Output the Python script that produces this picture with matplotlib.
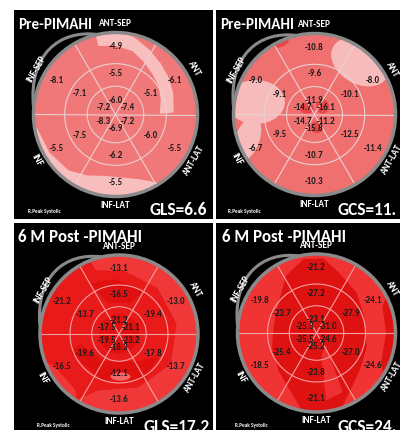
import numpy as np
import matplotlib.pyplot as plt
from matplotlib.patches import Circle, Polygon, Ellipse, PathPatch
from matplotlib.path import Path

plt.rcParams['font.family'] = ['Carlito', 'DejaVu Sans']

# segment order: ANT-SEP, ANT, ANT-LAT, INF-LAT, INF, INF-SEP
segments = ['ANT-SEP', 'ANT', 'ANT-LAT', 'INF-LAT', 'INF', 'INF-SEP']
seg_angles = [90, 30, -30, -90, -150, 150]

pre_gls_basal = [-4.9, -6.1, -5.5, -5.5, -5.5, -8.1]
pre_gls_mid = [-5.5, -5.1, -6.0, -6.2, -7.5, -7.1]
pre_gls_apical = [-6.0, -7.4, -7.2, -6.9, -8.3, -7.2]

pre_gcs_basal = [-10.8, -8.0, -11.4, -10.3, -6.7, -9.0]
pre_gcs_mid = [-9.6, -10.1, -12.5, -10.7, -9.5, -9.1]
pre_gcs_apical = [-11.9, -16.1, -11.2, -15.8, -14.7, -14.7]

post_gls_basal = [-13.1, -13.0, -13.7, -13.6, -16.5, -21.2]
post_gls_mid = [-16.5, -19.4, -17.8, -12.1, -19.6, -13.7]
post_gls_apical = [-21.2, -21.1, -23.2, -18.3, -19.5, -17.5]

post_gcs_basal = [-21.2, -24.1, -24.6, -21.1, -18.5, -19.8]
post_gcs_mid = [-27.2, -27.9, -27.0, -23.8, -25.4, -23.7]
post_gcs_apical = [-23.1, -31.0, -24.6, -25.2, -25.5, -25.3]

titles = ['Pre-PIMAHI', 'Pre-PIMAHI', '6 M Post -PIMAHI', '6 M Post -PIMAHI']
global_labels = ['GLS=6.6', 'GCS=11.', 'GLS=17.2', 'GCS=24.']

W, H = 400, 430
RING_MID = 0.62
RING_IN = 0.345


def pol(c, R, a, r):
    return (c[0] + r * R * np.cos(np.radians(a)), c[1] + r * R * np.sin(np.radians(a)))


def blob(ax, c, R, pts, color, clip):
    poly = Polygon([pol(c, R, a, r) for a, r in pts], closed=True, fc=color, ec='none',
                   zorder=2, joinstyle='round')
    ax.add_patch(poly)
    poly.set_clip_path(clip)


def ellipse(ax, c, R, a, r, w, h, ang, color, clip):
    e = Ellipse(pol(c, R, a, r), w, h, angle=ang, fc=color, ec='none', zorder=2)
    ax.add_patch(e)
    e.set_clip_path(clip)


def shade_pre_gls(ax, c, R, clip):
    pale = '#F8BEBE'
    blob(ax, c, R, [(104, 1.05), (88, 1.05), (75, 0.96), (62, 0.89), (48, 0.83), (35, 0.79),
                    (20, 0.75), (2, 0.71), (1, 0.54), (18, 0.58), (33, 0.63), (48, 0.67),
                    (62, 0.73), (75, 0.80), (90, 0.84), (104, 0.86)], pale, clip)
    blob(ax, c, R, [(186, 1.05), (205, 1.06), (225, 1.06), (245, 1.06), (265, 1.06),
                    (285, 1.06), (305, 1.05), (300, 0.95), (290, 0.84), (275, 0.77),
                    (260, 0.76), (245, 0.82), (230, 0.89), (210, 0.93), (190, 0.97)], pale, clip)


def shade_pre_gcs(ax, c, R, clip):
    pale = '#F7BBBB'
    dark = '#E84646'
    ellipse(ax, c, R, 49, 0.86, 62, 44, -30, pale, clip)
    ellipse(ax, c, R, 168, 0.74, 58, 44, 0, pale, clip)
    ellipse(ax, c, R, 200, 0.88, 24, 46, -20, pale, clip)
    ellipse(ax, c, R, 45, 0.14, 13, 14, 0, dark, clip)
    ellipse(ax, c, R, 140, 0.12, 14, 11, 0, dark, clip)
    ellipse(ax, c, R, -80, 0.16, 12, 12, 0, dark, clip)
    ellipse(ax, c, R, 115, 0.97, 16, 7, 25, dark, clip)


def shade_post_gls(ax, c, R, clip):
    light = '#F03838'
    dark = '#E01010'
    blob(ax, c, R, [(-125, 1.06), (-90, 1.06), (-50, 1.06), (-10, 1.06), (30, 1.06),
                    (70, 1.06), (112, 1.06), (110, 0.86), (85, 0.80), (50, 0.76), (10, 0.74),
                    (-30, 0.76), (-70, 0.72), (-110, 0.76)], light, clip)
    blob(ax, c, R, [(195, 1.06), (240, 1.06), (232, 0.90), (210, 0.90)], light, clip)
    blob(ax, c, R, [(120, 0.74), (95, 0.70), (60, 0.62), (70, 0.42), (110, 0.42)], dark, clip)
    blob(ax, c, R, [(200, 0.66), (250, 0.62), (300, 0.66), (330, 0.58), (300, 0.40),
                    (240, 0.40), (195, 0.50)], dark, clip)
    ellipse(ax, c, R, 0, 0.0, 40, 40, 0, dark, clip)
    ellipse(ax, c, R, -88, 0.54, 20, 8, 0, '#F46868', clip)


def shade_post_gcs(ax, c, R, clip):
    dark = '#DF1212'
    blob(ax, c, R, [(100, 0.95), (118, 0.82), (140, 0.62), (170, 0.55), (200, 0.60),
                    (225, 0.68), (250, 0.85), (262, 1.06), (285, 1.06), (300, 0.85),
                    (320, 0.72), (345, 0.66), (20, 0.64), (45, 0.72), (70, 0.82), (85, 0.95)],
         dark, clip)
    blob(ax, c, R, [(-35, 1.06), (-5, 1.06), (30, 1.06), (22, 0.90), (0, 0.88), (-25, 0.90)],
         dark, clip)
    blob(ax, c, R, [(-52, 0.18), (-66, 0.82), (-82, 0.86), (-78, 0.30)], '#EE3030', clip)


panels = [
    dict(rect=(14, 10, 199, 209), center=(115.5, 114.5), R=82, fill='#F17878',
         grid='#EAD0D0', vals=(pre_gls_basal, pre_gls_mid, pre_gls_apical),
         shade=shade_pre_gls, tsize=10.9, tx=4),
    dict(rect=(216, 10, 184, 209), center=(314.5, 114.5), R=81, fill='#F07070',
         grid='#EAD0D0', vals=(pre_gcs_basal, pre_gcs_mid, pre_gcs_apical),
         shade=shade_pre_gcs, tsize=10.9, tx=4),
    dict(rect=(14, 223, 199, 207), center=(119, 334), R=79, fill='#E81A1A',
         grid='#F4A0A0', vals=(post_gls_basal, post_gls_mid, post_gls_apical),
         shade=shade_post_gls, tsize=12.2, tx=4),
    dict(rect=(216, 223, 184, 207), center=(316.5, 333), R=79, fill='#F03434',
         grid='#F4A0A0', vals=(post_gcs_basal, post_gcs_mid, post_gcs_apical),
         shade=shade_post_gcs, tsize=12.2, tx=6),
]

fig = plt.figure(figsize=(W / 100, H / 100), dpi=100, facecolor='white')

for i, p in enumerate(panels):
    x0, y0, w, h = p['rect']
    R = p['R']
    ax = fig.add_axes([x0 / W, 1 - (y0 + h) / H, w / W, h / H])
    ax.set_xlim(0, w)
    ax.set_ylim(0, h)
    ax.set_facecolor('black')
    ax.set_xticks([])
    ax.set_yticks([])
    for s in ax.spines.values():
        s.set_visible(False)

    # local centre, y measured upward from the panel bottom
    c = (p['center'][0] - x0, h - (p['center'][1] - y0))

    ax.text(p['tx'], h - 19, titles[i], color='white', fontsize=p['tsize'],
            fontweight='bold', ha='left', va='baseline', zorder=6)

    ax.add_patch(Circle(c, R, fc=p['fill'], ec='none', zorder=1))
    clip = Circle(c, R, transform=ax.transData)
    p['shade'](ax, c, R, clip)

    # ring boundaries and spokes
    for rr in (RING_IN, RING_MID):
        ax.add_patch(Circle(c, rr * R, fc='none', ec=p['grid'], lw=0.8, zorder=3))
    for a in (0, 60, 120):
        ax.plot(*zip(pol(c, R, a, 1.0), pol(c, R, a + 180, 1.0)), color=p['grid'], lw=0.8, zorder=3)

    ax.add_patch(Circle(c, R, fc='none', ec='#8A8A8A', lw=2.5, zorder=4))
    k = R / 82
    corner = [(-18, 80), (-56, 85), (-87, 60), (-82, 8)]
    verts = [(c[0] + dx * k, c[1] + dy * k) for dx, dy in corner]
    ax.add_patch(PathPatch(Path(verts, [Path.MOVETO, Path.CURVE4, Path.CURVE4, Path.CURVE4]),
                           fc='none', ec='#8A8A8A', lw=2.2, zorder=4))

    basal, mid, apical = p['vals']
    for a, name, vb, vm, va in zip(seg_angles, segments, basal, mid, apical):
        for v, r in ((vb, 0.83), (vm, 0.50), (va, 0.17)):
            ax.text(*pol(c, R, a, r), f'{v:.1f}', fontsize=6.4, fontweight='bold', color='#1A1A1A',
                    ha='center', va='center', zorder=5)
        rot = a - 90 if a > 0 else a + 90
        ax.text(*pol(c, R, a, 1.11), name, fontsize=6.7, fontweight='bold', color='white',
                rotation=rot, rotation_mode='anchor', ha='center', va='center', zorder=6)

    gx = (136, 122, 129, 122)[i]
    gy = 4 if i < 2 else -2
    ax.text(gx, gy, global_labels[i], color='white', fontsize=12.5,
            fontweight='bold', ha='left', va='baseline', zorder=6, clip_on=True)
    rx = (14, 12, 23, 19)[i]
    ry = 8 if i < 2 else 4
    ax.text(rx, ry, 'R.Peak Systolic', color='white', fontsize=3.8, fontweight='bold',
            ha='left', va='center', zorder=6)

fig.savefig('out.png', dpi=100, facecolor='white')
